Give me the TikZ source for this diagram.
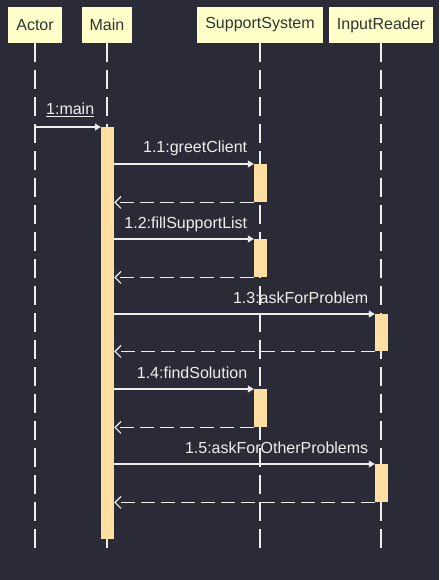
\documentclass[tikz,border=0pt]{standalone}
\usepackage{fontspec}
\setmainfont{Liberation Sans}
\usepackage{tikz}
\usetikzlibrary{arrows.meta}
\definecolor{bgdark}{HTML}{2A2B36}
\definecolor{objfill}{HTML}{FFFFCA}
\definecolor{objtext}{HTML}{333333}
\definecolor{barfill}{HTML}{FFDEA2}
\definecolor{linegrey}{HTML}{EEEEEE}

\begin{document}
\begin{tikzpicture}[x=1pt,y=-1pt,font=\fontsize{16}{19}\selectfont,
  obj/.style={fill=objfill,text=objtext,minimum height=36pt,inner xsep=8pt,inner ysep=0pt},
  life/.style={draw=linegrey,line width=1.2pt,dash pattern=on 19pt off 8pt},
  actbar/.style={fill=barfill,anchor=north,minimum width=13pt,inner sep=0pt},
  call/.style={draw=linegrey,line width=1.2pt,-{Triangle[length=6pt,width=7pt]}},
  ret/.style={draw=linegrey,line width=1.2pt,dash pattern=on 14pt off 6pt,-{Straight Barb[length=6pt,width=12pt]}},
  lbl/.style={text=linegrey,pos=1,anchor=base east,xshift=-6pt,yshift=11pt,inner sep=0pt}]

\fill[bgdark] (0,0) rectangle (439,580);
\useasboundingbox (0,0) rectangle (439,580);

\node[obj] (actor) at (35,25) {Actor};
\node[obj] (main) at (107,25) {Main};
\node[obj] (support) at (260,25) {SupportSystem};
\node[obj] (input) at (381,25) {InputReader};

\coordinate (bottom) at (0,548);
\foreach \o in {actor,main,support,input}
  \draw[life] (\o.south) -- (\o.south |- bottom);

\node[actbar,minimum height=412pt] (mainbar) at (107.5,127) {};
\node[actbar,minimum height=38pt] (ss1) at (260.5,164) {};
\node[actbar,minimum height=38pt] (ss2) at (260.5,239) {};
\node[actbar,minimum height=37pt] (ir1) at (381.5,314) {};
\node[actbar,minimum height=38pt] (ss3) at (260.5,389) {};
\node[actbar,minimum height=38pt] (ir2) at (381.5,464) {};

\draw[call] (actor.south |- mainbar.north) -- node[lbl,yshift=1pt] {\underline{1:main}} (mainbar.north west);

\draw[call] (mainbar.east |- ss1.north) -- node[lbl] {1.1:greetClient} (ss1.north west);
\draw[ret] (ss1.south west) -- (mainbar.east |- ss1.south);

\draw[call] (mainbar.east |- ss2.north) -- node[lbl] {1.2:fillSupportList} (ss2.north west);
\draw[ret] (ss2.south west) -- (mainbar.east |- ss2.south);

\draw[call] (mainbar.east |- ir1.north) -- node[lbl] {1.3:askForProblem} (ir1.north west);
\draw[ret] (ir1.south west) -- (mainbar.east |- ir1.south);

\draw[call] (mainbar.east |- ss3.north) -- node[lbl] {1.4:findSolution} (ss3.north west);
\draw[ret] (ss3.south west) -- (mainbar.east |- ss3.south);

\draw[call] (mainbar.east |- ir2.north) -- node[lbl] {1.5:askForOtherProblems} (ir2.north west);
\draw[ret] (ir2.south west) -- (mainbar.east |- ir2.south);

\end{tikzpicture}
\end{document}
